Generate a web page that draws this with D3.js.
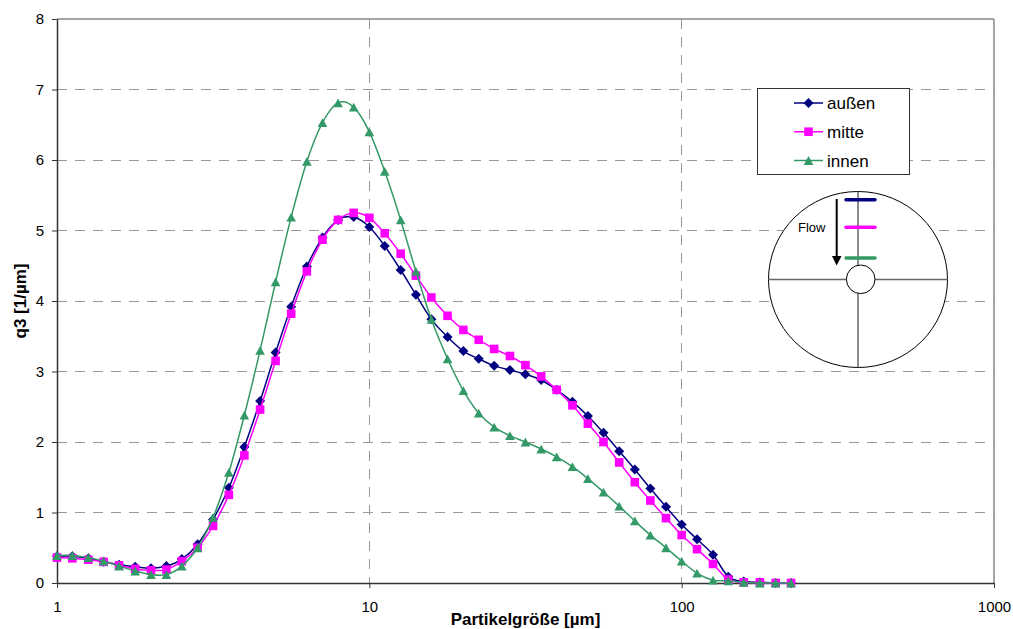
<!DOCTYPE html>
<html>
<head>
<meta charset="utf-8">
<script src="https://cdn.jsdelivr.net/npm/d3@7"></script>
<style>
  body { margin: 0; background: #fff; }
  text { font-family: "Liberation Sans", Arial, sans-serif; fill: #000; }
</style>
</head>
<body>
<div id="container"></div>
<script>
// particle size classes in um
var sizes = [1, 1.12, 1.26, 1.41, 1.58, 1.78, 2, 2.24, 2.51, 2.82,
    3.16, 3.55, 3.98, 4.47, 5.01, 5.62, 6.31, 7.08, 7.94, 8.91,
    10, 11.2, 12.6, 14.1, 15.8, 17.8, 20, 22.4, 25.1, 28.2,
    31.6, 35.5, 39.8, 44.7, 50.1, 56.2, 63.1, 70.8, 79.4, 89.1,
    100, 112, 126, 141, 158, 178, 200, 224];

var aussen = [0.38, 0.38, 0.35, 0.30, 0.26, 0.23, 0.21, 0.24, 0.34, 0.55,
    0.90, 1.35, 1.93, 2.58, 3.27, 3.92, 4.49, 4.90, 5.15, 5.19,
    5.05, 4.78, 4.44, 4.09, 3.74, 3.49, 3.29, 3.18, 3.08, 3.02,
    2.96, 2.88, 2.74, 2.57, 2.37, 2.13, 1.87, 1.61, 1.34, 1.08,
    0.83, 0.62, 0.40, 0.09, 0.02, 0.01, 0, 0];

var mitte = [0.36, 0.35, 0.33, 0.30, 0.25, 0.20, 0.18, 0.19, 0.31, 0.50,
    0.81, 1.25, 1.81, 2.46, 3.15, 3.82, 4.42, 4.87, 5.15, 5.25,
    5.18, 4.96, 4.67, 4.36, 4.05, 3.79, 3.59, 3.45, 3.32, 3.22,
    3.09, 2.93, 2.74, 2.52, 2.26, 2.00, 1.71, 1.43, 1.17, 0.92,
    0.68, 0.48, 0.27, 0.05, 0.01, 0.01, 0, 0];

var innen = [0.39, 0.39, 0.36, 0.31, 0.24, 0.17, 0.12, 0.12, 0.24, 0.50,
    0.93, 1.57, 2.38, 3.30, 4.27, 5.19, 5.98, 6.53, 6.81, 6.75,
    6.40, 5.84, 5.15, 4.42, 3.74, 3.18, 2.73, 2.41, 2.21, 2.09,
    2.00, 1.90, 1.79, 1.65, 1.48, 1.29, 1.09, 0.88, 0.68, 0.50,
    0.31, 0.14, 0.04, 0.03, 0.01, 0, 0, 0];

var xTicks = [1, 10, 100, 1000];
var yTicks = [0, 1, 2, 3, 4, 5, 6, 7, 8];

// Excel style markers, centred on their bounding box
var diamondMark = {draw: function(ctx, r) {
    ctx.moveTo(0, -r); ctx.lineTo(r, 0); ctx.lineTo(0, r); ctx.lineTo(-r, 0); ctx.closePath();
}};
var squareMark = {draw: function(ctx, r) {
    ctx.rect(-r, -r, 2 * r, 2 * r);
}};
var triangleMark = {draw: function(ctx, r) {
    ctx.moveTo(0, -r); ctx.lineTo(r + 0.4, r); ctx.lineTo(-r - 0.4, r); ctx.closePath();
}};

var series = [
    {name: 'außen', values: aussen, color: '#000080', symbol: diamondMark, size: 5},
    {name: 'mitte', values: mitte, color: '#ff00ff', symbol: squareMark, size: 4.3},
    {name: 'innen', values: innen, color: '#339966', symbol: triangleMark, size: 4.4}
];

var width = 1013, height = 629;
var left = 57, right = 994, top_ = 19, bottom = 583;

var svg = d3.select('#container').append('svg')
    .attr('width', width)
    .attr('height', height)
    .style('display', 'block');

var x = d3.scaleLog().domain([1, 1000]).range([left, right]);
var y = d3.scaleLinear().domain([0, 8]).range([bottom, top_]);

// grid
svg.append('g').selectAll('line').data(yTicks.slice(1, 8)).enter().append('line')
    .attr('x1', left).attr('x2', right)
    .attr('y1', function(d) { return Math.floor(y(d)) + 0.5; })
    .attr('y2', function(d) { return Math.floor(y(d)) + 0.5; })
    .attr('stroke', '#999')
    .attr('stroke-dasharray', '10,8');

svg.append('g').selectAll('line').data(xTicks.slice(1, 3)).enter().append('line')
    .attr('y1', top_).attr('y2', bottom)
    .attr('x1', function(d) { return Math.floor(x(d)) + 0.5; })
    .attr('x2', function(d) { return Math.floor(x(d)) + 0.5; })
    .attr('stroke', '#999')
    .attr('stroke-dasharray', '10,8');

// frame
svg.append('line').attr('x1', left).attr('x2', right).attr('y1', top_).attr('y2', top_).attr('stroke', '#888').attr('stroke-width', 1.5);
svg.append('line').attr('x1', right).attr('x2', right).attr('y1', top_).attr('y2', bottom).attr('stroke', '#888').attr('stroke-width', 1.5);

svg.append('g')
    .attr('transform', 'translate(0,' + bottom + ')')
    .call(d3.axisBottom(x).tickValues(xTicks).tickFormat(d3.format('d')).tickSize(5).tickSizeOuter(0).tickPadding(13));

svg.append('g')
    .attr('transform', 'translate(' + left + ',0)')
    .call(d3.axisLeft(y).tickValues(yTicks).tickFormat(d3.format('d')).tickSize(5).tickSizeOuter(0).tickPadding(8));

svg.selectAll('.domain').attr('stroke', '#333').attr('stroke-width', 1.5);
svg.selectAll('.tick line').attr('stroke', '#333');
svg.selectAll('.tick text').style('font-size', '15px').style('font-family', '"Liberation Sans"');

// series
var line = d3.line()
    .x(function(d, i) { return x(sizes[i]); })
    .y(function(d) { return y(d); })
    .curve(d3.curveCatmullRom.alpha(0));

series.forEach(function(s) {
    var g = svg.append('g');
    g.append('path')
        .attr('d', line(s.values))
        .attr('fill', 'none')
        .attr('stroke', s.color)
        .attr('stroke-width', 1.5);
    g.selectAll('path.mark').data(s.values).enter().append('path')
        .attr('class', 'mark')
        .attr('d', d3.symbol().type(s.symbol).size(s.size))
        .attr('fill', s.color)
        .attr('transform', function(d, i) { return 'translate(' + x(sizes[i]) + ',' + y(d) + ')'; });
});

// axis titles
svg.append('text')
    .attr('x', 525.5).attr('y', 625)
    .attr('text-anchor', 'middle')
    .style('font-size', '17px').style('font-weight', 'bold')
    .text('Partikelgröße [µm]');

svg.append('text')
    .attr('transform', 'translate(26,301) rotate(-90)')
    .attr('text-anchor', 'middle')
    .style('font-size', '17px').style('font-weight', 'bold')
    .text('q3 [1/µm]');

// legend
var legend = svg.append('g');
legend.append('rect')
    .attr('x', 757.5).attr('y', 88.5).attr('width', 152).attr('height', 86)
    .attr('fill', '#fff').attr('stroke', '#333');

var legendY = d3.scalePoint().domain(series.map(function(s) { return s.name; })).range([103, 160.5]);

series.forEach(function(s) {
    var ly = legendY(s.name);
    legend.append('line')
        .attr('x1', 794).attr('x2', 823).attr('y1', ly).attr('y2', ly)
        .attr('stroke', s.color).attr('stroke-width', 1.5);
    legend.append('path')
        .attr('d', d3.symbol().type(s.symbol).size(s.size))
        .attr('fill', s.color)
        .attr('transform', 'translate(808.5,' + ly + ')');
    legend.append('text')
        .attr('x', 827).attr('y', ly + 6)
        .style('font-size', '17px')
        .text(s.name);
});

// flow sketch
var sketch = svg.append('g');
sketch.append('ellipse')
    .attr('cx', 858).attr('cy', 279.5).attr('rx', 89.5).attr('ry', 88)
    .attr('fill', '#fff').attr('stroke', '#000');
sketch.append('line').attr('x1', 858).attr('x2', 858).attr('y1', 191.5).attr('y2', 367.5)
    .attr('stroke', '#666').attr('stroke-width', 1.5);
sketch.append('line').attr('x1', 768.5).attr('x2', 947.5).attr('y1', 279.5).attr('y2', 279.5)
    .attr('stroke', '#666').attr('stroke-width', 1.5);
sketch.append('circle')
    .attr('cx', 860.7).attr('cy', 279.3).attr('r', 14.3)
    .attr('fill', '#fff').attr('stroke', '#000');

var markY = [199.7, 227.3, 258];
series.forEach(function(s, i) {
    sketch.append('line')
        .attr('x1', 846).attr('x2', 875).attr('y1', markY[i]).attr('y2', markY[i])
        .attr('stroke', s.color).attr('stroke-width', 3.5).attr('stroke-linecap', 'round');
});

sketch.append('line').attr('x1', 836.7).attr('x2', 836.7).attr('y1', 199).attr('y2', 258)
    .attr('stroke', '#000').attr('stroke-width', 2);
sketch.append('path').attr('d', 'M832,256L841.5,256L836.7,265.5Z').attr('fill', '#000');
sketch.append('text')
    .attr('x', 798).attr('y', 232)
    .style('font-size', '13px')
    .text('Flow');
</script>
</body>
</html>
